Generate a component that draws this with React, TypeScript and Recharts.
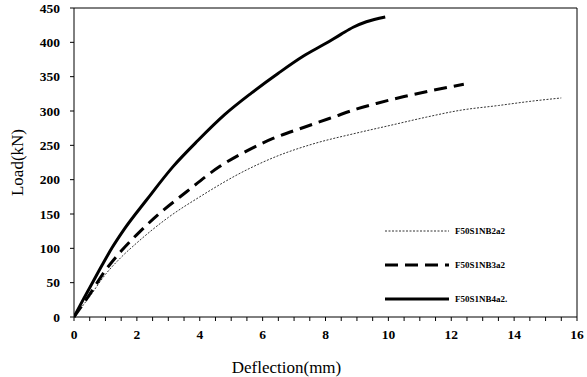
import { LineChart, Line, XAxis, YAxis } from 'recharts'

const xTicks = [0, 0.5, 1, 1.5, 2, 2.5, 3, 3.5, 4, 4.5, 5, 5.5, 6, 6.5, 7, 7.5, 8, 8.5, 9, 9.5, 10, 10.5, 11, 11.5, 12, 12.5, 13, 13.5, 14, 14.5, 15, 15.5, 16]
const xLabels = [0, 2, 4, 6, 8, 10, 12, 14, 16]
const yTicks = [0, 50, 100, 150, 200, 250, 300, 350, 400, 450]

// deflection (mm) / load (kN)
const nb2a2 = [
  { x: 0, y: 0 }, { x: 0.5, y: 30 }, { x: 1, y: 62 }, { x: 1.5, y: 87 }, { x: 2, y: 108 },
  { x: 3, y: 145 }, { x: 4, y: 175 }, { x: 5.48, y: 214 }, { x: 6.5, y: 235 }, { x: 7.6, y: 252 },
  { x: 9, y: 268 }, { x: 10.15, y: 280 }, { x: 11.2, y: 291 }, { x: 12.28, y: 301 },
  { x: 13.5, y: 308 }, { x: 14.5, y: 314 }, { x: 15.5, y: 319 },
]
const nb3a2 = [
  { x: 0, y: 0 }, { x: 0.5, y: 33 }, { x: 1, y: 68 }, { x: 1.5, y: 96 }, { x: 2, y: 120 },
  { x: 2.7, y: 150 }, { x: 3.57, y: 182 }, { x: 4.63, y: 219 }, { x: 5.5, y: 242 },
  { x: 6.33, y: 260 }, { x: 7.3, y: 276 }, { x: 8.24, y: 291 }, { x: 9, y: 303 },
  { x: 9.62, y: 311 }, { x: 10.5, y: 321 }, { x: 11.3, y: 329 }, { x: 12.4, y: 339 },
]
const nb4a2 = [
  { x: 0, y: 0 }, { x: 0.3, y: 26 }, { x: 0.6, y: 51 }, { x: 0.9, y: 76 }, { x: 1.2, y: 100 },
  { x: 1.6, y: 128 }, { x: 2.3, y: 170 }, { x: 3.15, y: 219 }, { x: 3.94, y: 257 },
  { x: 4.8, y: 295 }, { x: 5.64, y: 326 }, { x: 6.5, y: 355 }, { x: 7.3, y: 380 },
  { x: 8.03, y: 399 }, { x: 8.5, y: 412 }, { x: 8.88, y: 422 }, { x: 9.3, y: 430 }, { x: 9.9, y: 437 },
]

const series = [
  { name: 'F50S1NB2a2', data: nb2a2, width: 1, dash: '2 1.5', color: '#333' },
  { name: 'F50S1NB3a2', data: nb3a2, width: 3, dash: '13 7', color: '#000' },
  { name: 'F50S1NB4a2.', data: nb4a2, width: 3, dash: undefined, color: '#000' },
]

const font = '"Liberation Serif", "Times New Roman", serif'
const tickStyle = { fontSize: 13.5, fontWeight: 700, fill: '#000', fontFamily: font }

const LegendBox = () => (
  <div style={{ position: 'absolute', left: 385, top: 214, fontFamily: font }}>
    {series.map((s) => (
      <div key={s.name} style={{ display: 'flex', alignItems: 'center', height: 34 }}>
        <svg width={66} height={6}>
          <line x1={0} y1={3} x2={64} y2={3} stroke={s.color} strokeWidth={s.width} strokeDasharray={s.dash} />
        </svg>
        <span style={{ fontSize: 9, fontWeight: 700, marginLeft: 4 }}>{s.name}</span>
      </div>
    ))}
  </div>
)

export default function App() {
  return (
    <div style={{ position: 'absolute', left: 0, top: 0, width: 587, height: 377, background: '#fff' }}>
      <LineChart width={587} height={377} margin={{ top: 7, right: 9, bottom: 0, left: 0 }}>
        <XAxis
          xAxisId="b"
          type="number"
          dataKey="x"
          domain={[0, 16]}
          ticks={xTicks}
          interval={0}
          tick={tickStyle}
          tickFormatter={(v: number) => (xLabels.includes(v) ? String(v) : '')}
          tickSize={4}
          tickMargin={8}
          stroke="#000"
          height={60}
          allowDataOverflow
          label={{ value: 'Deflection(mm)', position: 'insideBottom', offset: 4, dx: -39, style: { fontSize: 17, fill: '#000', fontFamily: font } }}
        />
        <XAxis xAxisId="t" orientation="top" type="number" domain={[0, 16]} tick={false} tickLine={false} stroke="#000" height={1} />
        <YAxis
          type="number"
          domain={[0, 450]}
          ticks={yTicks}
          interval={0}
          tick={tickStyle}
          tickSize={4}
          tickMargin={10}
          stroke="#000"
          width={74}
          label={{ value: 'Load(kN)', angle: -90, position: 'insideLeft', offset: 17, style: { fontSize: 17, fill: '#000', fontFamily: font, textAnchor: 'middle' } }}
        />
        <YAxis yAxisId="r" orientation="right" domain={[0, 450]} tick={false} tickLine={false} stroke="#000" width={1} />
        {series.map((s) => (
          <Line
            key={s.name}
            xAxisId="b"
            data={s.data}
            dataKey="y"
            name={s.name}
            type="monotone"
            stroke={s.color}
            strokeWidth={s.width}
            strokeDasharray={s.dash}
            dot={false}
            isAnimationActive={false}
          />
        ))}
      </LineChart>
      <LegendBox />
    </div>
  )
}
